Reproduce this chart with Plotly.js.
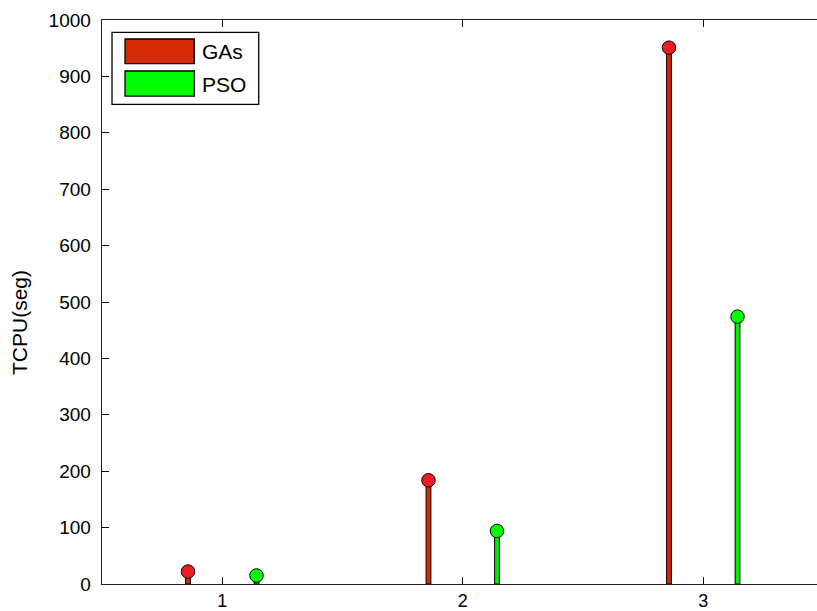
<!DOCTYPE html>
<html><head><meta charset="utf-8">
<script src="https://cdn.plot.ly/plotly-3.0.1.min.js"></script>
<style>html,body{margin:0;padding:0;background:#fff}#chart{width:817px;height:611px}</style>
</head><body><div id="chart"></div>
<script>
const groups = [1, 2, 3];
const seriesNames = ["GAs", "PSO"];
const gasValues = [22, 184, 951];
const psoValues = [15, 94, 474];
const xTicks = [1, 2, 3];
const yTicks = [0, 100, 200, 300, 400, 500, 600, 700, 800, 900, 1000];
const yTitle = "TCPU(seg)";

const offset = 0.1425;
const barFill = ["#d42a00", "#00ee00"];
const markerFill = ["#ee1c24", "#00ff00"];
const legendFill = ["#d62a00", "#00ff00"];
const allValues = [gasValues, psoValues];
const traces = [];
allValues.forEach((vals, i) => {
  const xs = groups.map(g => g + (i === 0 ? -offset : offset));
  traces.push({
    type: "bar", x: xs, y: vals, width: 0.02, name: seriesNames[i], showlegend: false,
    marker: {color: barFill[i], line: {color: "#000", width: 1}}, hoverinfo: "y"
  });
  traces.push({
    type: "scatter", mode: "markers", x: xs, y: vals, showlegend: false, name: seriesNames[i],
    marker: {size: 13.5, color: markerFill[i], line: {color: "#000", width: 1}}, hoverinfo: "y"
  });
});

const family = "Liberation Sans, Arial, sans-serif";
const font = {family: family, size: 19, color: "#000"};
const xfont = {family: family, size: 18, color: "#000"};
const titleFont = {family: family, size: 21, color: "#000"};
const shapes = [
  {type: "rect", xref: "paper", yref: "paper", x0: 0.014, x1: 0.2192, y0: 0.8505, y1: 0.9782,
   line: {color: "#000", width: 1.3}, fillcolor: "#fff"},
  {type: "rect", xref: "paper", yref: "paper", x0: 0.0322, x1: 0.1291, y0: 0.9225, y1: 0.9663,
   line: {color: "#000", width: 1.3}, fillcolor: legendFill[0]},
  {type: "rect", xref: "paper", yref: "paper", x0: 0.0322, x1: 0.1291, y0: 0.8652, y1: 0.9096,
   line: {color: "#000", width: 1.3}, fillcolor: legendFill[1]}
];
const annotations = [
  {xref: "paper", yref: "paper", x: 0.1375, y: 0.9433, xanchor: "left", yanchor: "middle", text: seriesNames[0], showarrow: false, font: {family: family, size: 21, color: "#000"}},
  {xref: "paper", yref: "paper", x: 0.1375, y: 0.8865, xanchor: "left", yanchor: "middle", text: seriesNames[1], showarrow: false, font: {family: family, size: 21, color: "#000"}},
  {xref: "paper", yref: "paper", x: -0.1161, y: 0.4645, xanchor: "center", yanchor: "middle", textangle: -90, text: yTitle, showarrow: false, font: titleFont}
];

const layout = {
  width: 817, height: 611,
  margin: {l: 102, r: 0, t: 20, b: 27, pad: 0},
  paper_bgcolor: "#fff", plot_bgcolor: "#fff",
  font: font, barmode: "overlay", showlegend: false,
  xaxis: {range: [0.5, 3.473], tickvals: xTicks, ticktext: xTicks.map(String), ticks: "inside", ticklen: 7,
    tickcolor: "#000", showline: true, linecolor: "#222", linewidth: 1.3, mirror: "allticks",
    showgrid: false, zeroline: false, tickfont: xfont, ticklabelstandoff: 0},
  yaxis: {range: [0, 1000], tickvals: yTicks, ticktext: yTicks.map(String), ticks: "inside", ticklen: 7,
    tickcolor: "#000", showline: true, linecolor: "#222", linewidth: 1.3, mirror: false,
    showgrid: false, zeroline: false, tickfont: font, ticklabelstandoff: 6},
  shapes: shapes, annotations: annotations
};
Plotly.newPlot("chart", traces, layout, {displayModeBar: false, staticPlot: true});
</script></body></html>
